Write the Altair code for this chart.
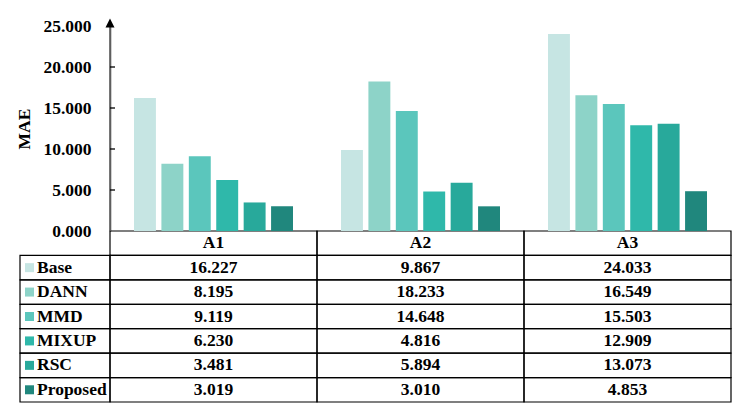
import altair as alt
import pandas as pd

# ---------------- data ----------------
categories = ["A1", "A2", "A3"]
methods = ["Base", "DANN", "MMD", "MIXUP", "RSC", "Proposed"]
base_vals = [16.227, 9.867, 24.033]
dann_vals = [8.195, 18.233, 16.549]
mmd_vals = [9.119, 14.648, 15.503]
mixup_vals = [6.230, 4.816, 12.909]
rsc_vals = [3.481, 5.894, 13.073]
proposed_vals = [3.019, 3.010, 4.853]
y_ticks = [0, 5, 10, 15, 20, 25]
colors = ["#c6e5e3", "#8dd3c8", "#5bc6bc", "#2fb8aa", "#28a99b", "#20877d"]

series = [base_vals, dann_vals, mmd_vals, mixup_vals, rsc_vals, proposed_vals]

# ---------------- layout / style ----------------
LEG_W = 90
COL_W = 207
PLOT_W = 3 * COL_W
TOP_H = 205
TABLE_H = 171
FONT = "Liberation Serif"
FS = 17.5
AXIS_GREY = "#5f5f5f"

rows = ["header"] + methods

df = pd.DataFrame(
    [
        {"cat": c, "method": m, "value": vals[i]}
        for m, vals in zip(methods, series)
        for i, c in enumerate(categories)
    ]
)
df["label"] = df["value"].map(lambda v: f"{v:.3f}")

hdr = pd.DataFrame({"cat": categories, "method": ["header"] * 3, "label": categories})
cells = pd.concat([hdr, df[["cat", "method", "label"]]], ignore_index=True)

leg = pd.DataFrame({"lcol": ["leg"] * len(methods), "method": methods})
ticks_df = pd.DataFrame({"lcol": ["leg"] * (len(y_ticks) - 2), "value": y_ticks[1:-1]})
arrow_df = pd.DataFrame({"cat": ["A1"], "value": [y_ticks[-1]]})
axis_df = pd.DataFrame({"lcol": ["leg"], "value": [y_ticks[-1]], "value2": [y_ticks[0]]})

# ---------------- scales / encodings ----------------
cat_scale = alt.Scale(domain=categories, range=[0, PLOT_W], paddingInner=0, paddingOuter=0)
x_cat = alt.X("cat:N", scale=cat_scale, axis=None)

val_scale = alt.Scale(domain=[y_ticks[0], y_ticks[-1]], range=[TOP_H, 0], nice=False)
y_val_axis = alt.Y(
    "value:Q",
    scale=val_scale,
    axis=alt.Axis(
        values=y_ticks,
        format=".3f",
        grid=False,
        ticks=False,
        domain=True,
        domainColor=AXIS_GREY,
        domainWidth=1.6,
        labelPadding=19,
        labelFont=FONT,
        labelFontSize=FS,
        labelFontWeight="bold",
        labelColor="black",
        title="MAE",
        titleFont=FONT,
        titleFontSize=FS,
        titleFontWeight="bold",
        titleColor="black",
        titlePadding=9,
    ),
)
y_val = alt.Y("value:Q", scale=val_scale, axis=None)

y_row = alt.Y(
    "method:N",
    scale=alt.Scale(domain=rows, range=[TOP_H, TOP_H + TABLE_H], paddingInner=0, paddingOuter=0),
    axis=None,
)
leg_scale = alt.Scale(domain=["leg"], range=[-LEG_W, 0], paddingInner=0, paddingOuter=0)
x_leg = alt.X("lcol:N", scale=leg_scale, axis=None)

# ---------------- table layers ----------------
val_rects = alt.Chart(cells).mark_rect(filled=False, stroke="black", strokeWidth=1.2).encode(
    x=x_cat, y=y_row
)
val_text = alt.Chart(cells).mark_text(
    font=FONT, fontSize=FS, fontWeight="bold", color="black", baseline="middle", align="center"
).encode(x=x_cat, y=y_row, text="label:N")

leg_rects = alt.Chart(leg).mark_rect(filled=False, stroke="black", strokeWidth=1.2).encode(
    x=x_leg, y=y_row
)
leg_sq = alt.Chart(leg).mark_point(
    shape="square", size=81, filled=True, opacity=1, xOffset=-35.5
).encode(
    x=x_leg,
    y=y_row,
    color=alt.Color("method:N", scale=alt.Scale(domain=methods, range=colors), legend=None),
)
leg_text = alt.Chart(leg).mark_text(
    font=FONT, fontSize=FS, fontWeight="bold", color="black", baseline="middle", align="left", dx=-28
).encode(x=x_leg, y=y_row, text="method:N")

# ---------------- bar layers ----------------
bars = alt.Chart(df).mark_bar().encode(
    x=x_cat,
    xOffset=alt.XOffset(
        "method:N",
        scale=alt.Scale(domain=methods, paddingInner=0.2, paddingOuter=0.875),
    ),
    y=y_val_axis,
    color=alt.Color("method:N", scale=alt.Scale(domain=methods, range=colors), legend=None),
)

# y-axis line and inward ticks, anchored at the right edge of the legend column
axis_line = alt.Chart(axis_df).mark_rule(
    color=AXIS_GREY, strokeWidth=1.6, xOffset=LEG_W / 2, opacity=1
).encode(x=x_leg, y=y_val, y2="value2:Q")

ticks = alt.Chart(ticks_df).mark_tick(
    orient="horizontal", size=5, thickness=1.3, color="black", opacity=1,
    xOffset=LEG_W / 2 + 2.5,
).encode(x=x_leg, y=y_val)

arrow = alt.Chart(arrow_df).mark_point(
    shape="M-1,1L0,-1L1,1Z", size=81, filled=True, color="black", opacity=1,
    xOffset=-COL_W / 2, yOffset=-3,
).encode(x=x_cat, y=y_val)

chart = (
    alt.layer(val_rects, val_text, leg_rects, leg_sq, leg_text, bars, axis_line, ticks, arrow)
    .resolve_scale(x="independent", y="independent")
    .properties(width=PLOT_W, height=TOP_H + TABLE_H,
                padding={"left": 7, "top": 9, "right": 5, "bottom": 5})
    .configure_view(strokeWidth=0)
)

chart.save("out.html", embed_options={"renderer": "svg", "actions": False})
